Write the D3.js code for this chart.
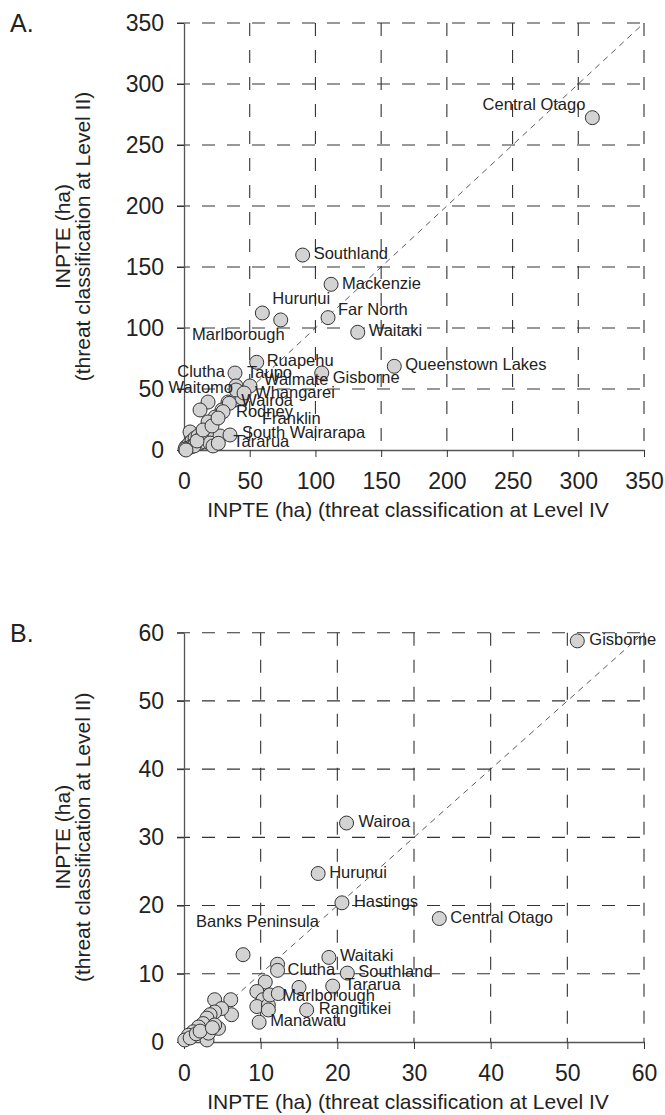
<!DOCTYPE html>
<html>
<head>
<meta charset="utf-8">
<script src="https://cdn.jsdelivr.net/npm/d3@7"></script>
<style>
  body { margin: 0; background: #fff; }
  text { font-family: Arial, "Liberation Sans", sans-serif; }
</style>
</head>
<body>
<div id="wrapper"></div>
<script>
// ---- panel A data (ha) ----
const aNames = ["Central Otago", "Southland", "Mackenzie", "Hurunui", "Marlborough", "Far North",
  "Waitaki", "Queenstown Lakes", "Ruapehu", "Gisborne", "Clutha", "Taupo", "Waitomo", "Waimate",
  "Whangarei", "Wairoa", "Rodney", "Franklin", "South Wairarapa", "Tararua"];
const aLevelIV = [310.7, 90.3, 111.9, 59.6, 73.6, 109.6, 132.2, 160.0, 55.3, 104.8, 38.8, 39.6, 39.6, 50.2,
  45.7, 34.5, 29.7, 25.9, 35.0, 26.1];
const aLevelII = [272.4, 159.8, 135.8, 112.3, 106.6, 108.5, 96.5, 68.6, 71.9, 63.1, 63.1, 52.5, 49.2, 52.5,
  46.7, 38.3, 31.4, 26.2, 12.3, 5.5];
// unlabelled districts
const aOtherIV = [18.3, 12.2, 33.5, 28.9, 23.6, 18.3, 4.6, 1.5, 3.8, 6.1, 8.4, 10.7, 13.7, 16.7, 19.8, 22.8,
  27.4, 8.4, 12.2, 16.0, 19.8, 22.1, 3.0, 5.3, 7.6, 0.8, 1.5, 9.9, 14.5, 21.3, 38.8, 44.1];
const aOtherII = [39.3, 32.8, 39.3, 32.8, 27.0, 23.0, 14.8, 2.5, 4.9, 7.4, 9.8, 11.5, 10.7, 9.8, 11.5, 9.8,
  11.5, 4.9, 5.7, 6.6, 5.7, 3.3, 1.6, 2.5, 3.3, 0.8, 0.0, 7.4, 16.4, 19.7, 41.0, 42.6];
const aTicks = [0, 50, 100, 150, 200, 250, 300, 350];

// ---- panel B data (ha) ----
const bNames = ["Gisborne", "Wairoa", "Hurunui", "Hastings", "Central Otago", "Banks Peninsula", "Waitaki",
  "Clutha", "Southland", "Tararua", "Marlborough", "Rangitikei", "Manawatu"];
const bLevelIV = [51.3, 21.2, 17.5, 20.6, 33.3, 7.7, 18.9, 12.2, 21.3, 19.4, 12.3, 16.0, 9.8];
const bLevelII = [58.8, 32.1, 24.7, 20.4, 18.1, 12.8, 12.4, 10.5, 10.1, 8.2, 7.1, 4.7, 2.9];
const bOtherIV = [12.2, 15.0, 10.6, 9.5, 10.3, 9.5, 11.0, 11.2, 11.0, 4.0, 6.1, 6.2, 4.9, 4.0, 3.4, 3.0,
  2.5, 1.9, 1.2, 0.6, 0.1, 4.5, 4.0, 3.0, 3.2, 0.8, 1.6, 2.1, 3.7];
const bOtherII = [11.4, 8.0, 8.8, 7.4, 6.2, 5.2, 5.4, 6.9, 4.7, 6.2, 6.2, 4.0, 4.9, 4.4, 4.0, 3.5,
  2.7, 2.2, 1.5, 1.0, 0.3, 2.0, 2.5, 0.3, 1.3, 0.6, 1.2, 1.6, 2.1];
const bTicks = [0, 10, 20, 30, 40, 50, 60];

// label placement: [anchor, dx, dy] relative to the point
const aLabelPos = {
  "Central Otago": ["end", -7, -8], "Southland": ["start", 11, 4], "Mackenzie": ["start", 11, 5],
  "Hurunui": ["start", 10, -9], "Marlborough": ["end", 4, 20], "Far North": ["start", 10, -3],
  "Waitaki": ["start", 11, 4], "Queenstown Lakes": ["start", 11, 4], "Ruapehu": ["start", 10, 4],
  "Gisborne": ["start", 11, 10], "Clutha": ["end", -10, 4], "Taupo": ["start", 11, -8],
  "Waitomo": ["end", -3, 3], "Waimate": ["start", 14, -1], "Whangarei": ["start", 11, 5],
  "Wairoa": ["start", 12, 3], "Rodney": ["start", 13, 5], "Franklin": ["start", 44, 6],
  "South Wairarapa": ["start", 12, 3], "Tararua": ["start", 15, 4]
};
const bLabelPos = {
  "Gisborne": ["start", 12, 4], "Wairoa": ["start", 12, 4], "Hurunui": ["start", 11, 4],
  "Hastings": ["start", 12, 4], "Central Otago": ["start", 11, 4], "Banks Peninsula": ["start", -47, -28],
  "Waitaki": ["start", 11, 4], "Clutha": ["start", 10, 5], "Southland": ["start", 11, 4],
  "Tararua": ["start", 12, 4], "Marlborough": ["start", 4, 7], "Rangitikei": ["start", 12, 4],
  "Manawatu": ["start", 11, 4]
};

const svg = d3.select("#wrapper")
  .append("svg")
    .attr("width", 665)
    .attr("height", 1115);

function drawPanel(p) {
  var x = d3.scaleLinear().domain([0, p.max]).range([184, 644]);
  var y = d3.scaleLinear().domain([0, p.max]).range([p.bottom, p.top]);
  var g = svg.append("g");

  /* dashed grid */
  g.selectAll(".hgrid").data(p.ticks.slice(1)).enter().append("line")
    .attr("x1", x(0) - 7).attr("x2", x(p.max))
    .attr("y1", d => y(d)).attr("y2", d => y(d))
    .attr("stroke", "#333").attr("stroke-width", 1.1)
    .attr("stroke-dasharray", "13,12");
  g.selectAll(".vgrid").data(p.ticks.slice(1)).enter().append("line")
    .attr("x1", d => x(d)).attr("x2", d => x(d))
    .attr("y1", y(p.max)).attr("y2", y(0))
    .attr("stroke", "#333").attr("stroke-width", 1.1)
    .attr("stroke-dasharray", "13,14");

  /* 1:1 line */
  g.append("line")
    .attr("x1", x(0)).attr("y1", y(0)).attr("x2", x(p.max)).attr("y2", y(p.max))
    .attr("stroke", "#333").attr("stroke-width", 0.8)
    .attr("stroke-dasharray", "6,5");

  /* axes */
  var xa = g.append("g")
    .attr("transform", "translate(0," + y(0) + ")")
    .call(d3.axisBottom(x).tickValues(p.ticks).tickSize(7).tickSizeOuter(0).tickPadding(16));
  var ya = g.append("g")
    .attr("transform", "translate(" + x(0) + ",0)")
    .call(d3.axisLeft(y).tickValues(p.ticks).tickSize(7).tickSizeOuter(0).tickPadding(13));
  [xa, ya].forEach(a => {
    a.attr("font-family", null).attr("font-size", null);
    a.select(".domain").attr("stroke", "#555").attr("stroke-width", 1.3);
    a.selectAll(".tick line").attr("stroke", "#333");
    a.selectAll("text").style("font-size", "23px").attr("fill", "#222");
  });

  /* titles */
  g.append("text")
    .attr("x", 408).attr("y", y(0) + 67)
    .attr("text-anchor", "middle").style("font-size", "21px").attr("fill", "#222")
    .text("INPTE (ha) (threat classification at Level IV");
  var cy = (p.top + p.bottom) / 2;
  g.append("text")
    .attr("transform", "translate(70," + cy + ") rotate(-90)")
    .attr("text-anchor", "middle").style("font-size", "21px").attr("fill", "#222")
    .text("INPTE (ha)");
  g.append("text")
    .attr("transform", "translate(90," + cy + ") rotate(-90)")
    .attr("text-anchor", "middle").style("font-size", "21px").attr("fill", "#222")
    .text("(threat classification at Level II)");
  g.append("text")
    .attr("x", 10).attr("y", y(p.max) + 9)
    .style("font-size", "25px").attr("fill", "#222")
    .text(p.letter);

  /* points */
  var others = p.otherX.map((v, i) => [v, p.otherY[i]]);
  var named = p.names.map((n, i) => ({ name: n, vx: p.xs[i], vy: p.ys[i] }));
  g.selectAll(".other").data(others).enter().append("circle")
    .attr("cx", d => x(d[0])).attr("cy", d => y(d[1])).attr("r", 7)
    .attr("fill", "#d3d3d3").attr("stroke", "#333").attr("stroke-width", 1);
  g.selectAll(".named").data(named).enter().append("circle")
    .attr("cx", d => x(d.vx)).attr("cy", d => y(d.vy)).attr("r", 7)
    .attr("fill", "#d3d3d3").attr("stroke", "#333").attr("stroke-width", 1);

  g.selectAll(".lbl").data(named).enter().append("text")
    .attr("x", d => x(d.vx) + p.pos[d.name][1])
    .attr("y", d => y(d.vy) + p.pos[d.name][2])
    .attr("text-anchor", d => p.pos[d.name][0])
    .style("font-size", "16.5px").attr("fill", "#222")
    .text(d => d.name);
}

drawPanel({ letter: "A.", max: 350, ticks: aTicks, top: 23, bottom: 450,
  names: aNames, xs: aLevelIV, ys: aLevelII, otherX: aOtherIV, otherY: aOtherII, pos: aLabelPos });
drawPanel({ letter: "B.", max: 60, ticks: bTicks, top: 632.7, bottom: 1042,
  names: bNames, xs: bLevelIV, ys: bLevelII, otherX: bOtherIV, otherY: bOtherII, pos: bLabelPos });
</script>
</body>
</html>
